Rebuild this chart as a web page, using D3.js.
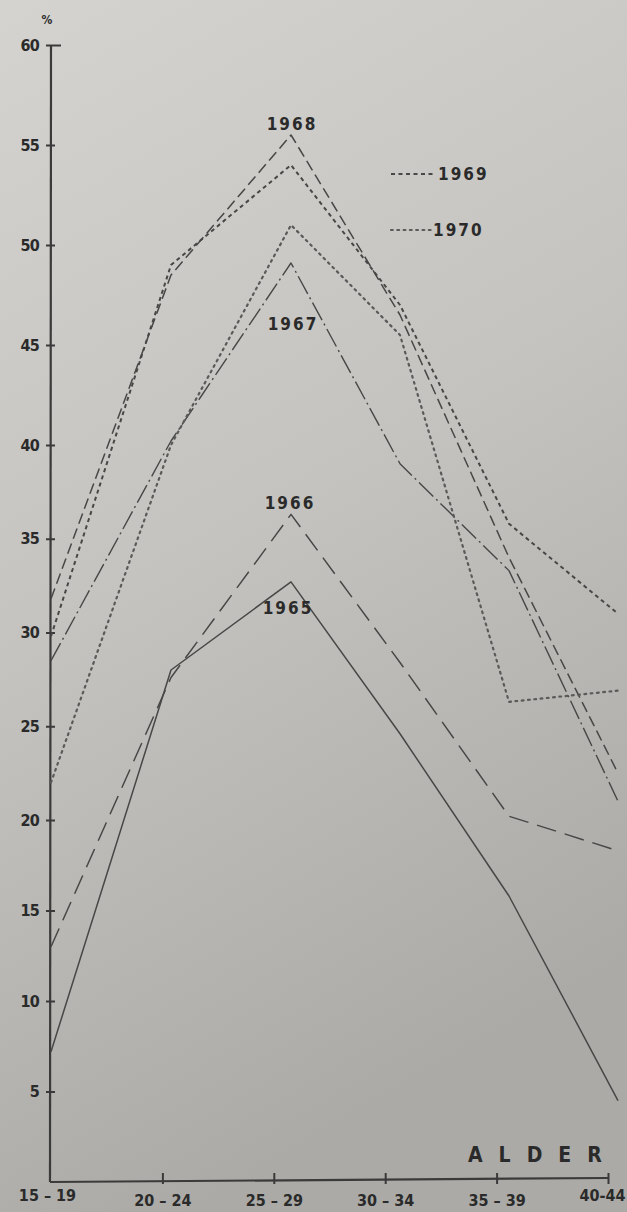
<!DOCTYPE html>
<html><head><meta charset="utf-8">
<script src="https://cdn.jsdelivr.net/npm/d3@7"></script>
<style>
html,body{margin:0;padding:0;background:#c4c3bf;}
svg{display:block;}
text{font-family:"DejaVu Sans Condensed","DejaVu Sans",sans-serif;font-weight:bold;fill:#2a2a2a;}
</style></head>
<body>
<script>
const categories = ["15 – 19","20 – 24","25 – 29","30 – 34","35 – 39","40-44"];
const yTicks = [5,10,15,20,25,30,35,40,45,50,55,60];
const s1965 = [7.2, 28.0, 32.7, 24.6, 15.8, 4.5];
const s1966 = [13.0, 27.6, 36.3, 28.4, 20.2, 18.3];
const s1967 = [28.5, 40.2, 49.1, 39.0, 33.3, 21.0];
const s1968 = [31.8, 48.5, 55.5, 46.5, 34.0, 22.5];
const s1969 = [29.8, 49.0, 54.0, 47.0, 35.8, 31.0];
const s1970 = [22.0, 40.0, 51.0, 45.5, 26.3, 26.9];
const seriesNames = ["1965","1966","1967","1968","1969","1970"];

const W = 627, H = 1212;
const svg = d3.select("body").append("svg").attr("width", W).attr("height", H);
const defs = svg.append("defs");
const g1 = defs.append("linearGradient").attr("id","bg").attr("x1","0").attr("y1","0").attr("x2","0.3").attr("y2","1");
g1.append("stop").attr("offset","0").attr("stop-color","#d4d3cf");
g1.append("stop").attr("offset","0.5").attr("stop-color","#c4c3bf");
g1.append("stop").attr("offset","1").attr("stop-color","#abaaa6");
svg.append("rect").attr("width",W).attr("height",H).attr("fill","url(#bg)");

// scales (piecewise linear to follow the photographed perspective)
const y = d3.scaleLinear().domain([0,20,40,60]).range([1182,820,445,45]);
const xLine = d3.scaleLinear().domain([0,2,5]).range([51,291,618]);
const xAxisS = d3.scaleLinear().domain([0,5]).range([51,608]);

const ink = "#3a3a3a";

// y axis
const yAx = svg.append("g").attr("transform","translate(51,0)");
yAx.call(d3.axisLeft(y).tickValues(yTicks).tickSize(0).tickFormat(d3.format("d")).tickPadding(12));
yAx.select(".domain").remove();
yAx.selectAll(".tick text").attr("font-size",16).attr("fill","#2a2a2a")
   .attr("font-family","DejaVu Sans Condensed").attr("font-weight","bold").attr("letter-spacing","-0.8px");
yAx.selectAll(".tick").append("line").attr("x1",-5).attr("x2",d=>d===60?10:4).attr("stroke",ink).attr("stroke-width",2);
svg.append("line").attr("x1",51).attr("x2",50).attr("y1",y(60)).attr("y2",y(0)).attr("stroke",ink).attr("stroke-width",2.2);
svg.append("text").attr("x",47).attr("y",24).attr("font-size",12).attr("text-anchor","middle").text("%");

// x axis
const xAx = svg.append("g").attr("transform",`translate(0,${y(0)})`);
xAx.call(d3.axisBottom(xAxisS).tickValues(d3.range(categories.length)).tickSize(0).tickFormat(i=>categories[i]).tickPadding(10));
xAx.select(".domain").remove();
xAx.selectAll(".tick text").attr("font-size",16).attr("fill","#2a2a2a")
   .attr("font-family","DejaVu Sans Condensed").attr("font-weight","bold")
   .attr("dx", (i)=> i===0 ? -4 : (i===5 ? -6 : 0))
   .attr("dy", (i)=> (i===0||i===5) ? "0.55em" : "0.85em");
xAx.selectAll(".tick").filter(i=>i>0).append("line").attr("y1",-9).attr("y2",2).attr("stroke",ink).attr("stroke-width",2);
svg.append("line").attr("x1",50).attr("x2",608).attr("y1",y(0)).attr("y2",y(0)-4).attr("stroke",ink).attr("stroke-width",2.2);
svg.append("text").attr("x",468).attr("y",1162).attr("font-size",21).attr("letter-spacing","16px").text("ALDER");

// series lines
const data = [s1965,s1966,s1967,s1968,s1969,s1970];
const dashes = [null, "20,9", "20,4,2,4", "11,5", "4,3.5", "1.8,4.5"];
const widths = [1.5, 1.5, 1.4, 1.5, 2, 2.2];
const caps = ["butt","butt","butt","butt","butt","round"];
const line = d3.line().x((d,i)=>xLine(i)).y(d=>y(d));
const lg = svg.append("g");
data.forEach((s,k)=>{
  lg.append("path").datum(s).attr("d",line).attr("fill","none")
    .attr("stroke", k===5 ? "#5a5a5a" : "#474747").attr("stroke-width",widths[k])
    .attr("stroke-dasharray",dashes[k]).attr("stroke-linecap",caps[k])
    .attr("stroke-linejoin","round");
});

// labels on the curves
const lab = svg.append("g").attr("font-size",17).attr("text-anchor","middle").attr("letter-spacing","2px");
lab.append("text").attr("x",xLine(2)+1).attr("y",y(s1968[2])-5).text(seriesNames[3]);
lab.append("text").attr("x",xLine(2)+2).attr("y",y(s1967[2])+67).text(seriesNames[2]);
lab.append("text").attr("x",xLine(2)-1).attr("y",y(s1966[2])-5).text(seriesNames[1]);
lab.append("text").attr("x",xLine(2)-3).attr("y",y(s1965[2])+32).text(seriesNames[0]);

// legend for 1969 and 1970
const leg = svg.append("g");
leg.append("line").attr("x1",391).attr("x2",436).attr("y1",174).attr("y2",174)
   .attr("stroke","#474747").attr("stroke-width",2).attr("stroke-dasharray",dashes[4]);
leg.append("text").attr("x",438).attr("y",180).attr("font-size",17).attr("letter-spacing","2px").text(seriesNames[4]);
leg.append("line").attr("x1",391).attr("x2",431).attr("y1",230).attr("y2",230)
   .attr("stroke","#5a5a5a").attr("stroke-width",2.2).attr("stroke-dasharray",dashes[5]).attr("stroke-linecap","round");
leg.append("text").attr("x",433).attr("y",236).attr("font-size",17).attr("letter-spacing","2px").text(seriesNames[5]);
</script>
</body></html>
